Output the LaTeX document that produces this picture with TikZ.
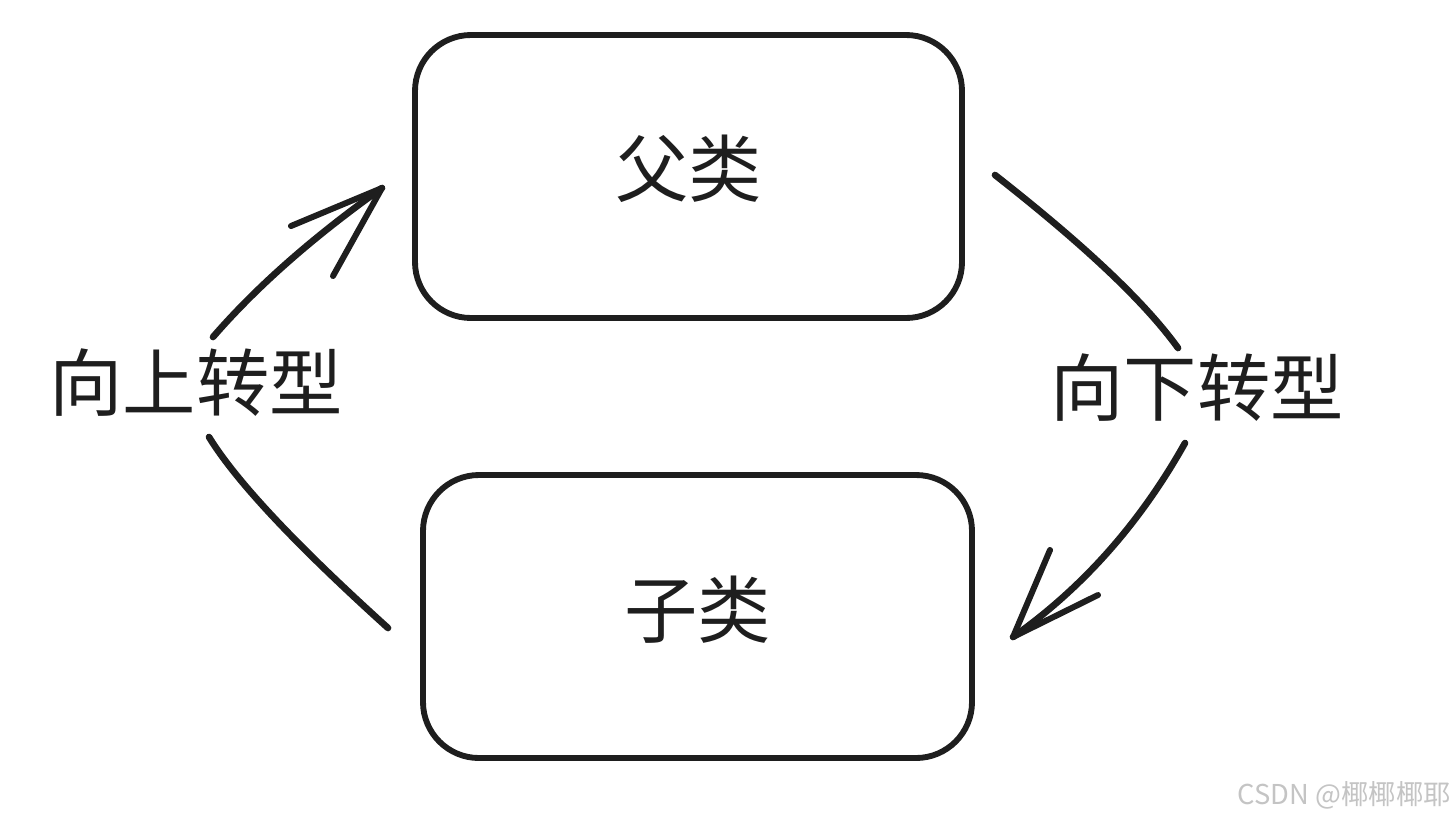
\documentclass[tikz,border=0pt]{standalone}
\usepackage{fontspec}
\newfontfamily\cjk{Noto Sans CJK SC}
\definecolor{ink}{HTML}{1E1E1E}
\definecolor{wm}{HTML}{C4C4C4}
\tikzset{
  box/.style={draw=ink, line width=4.4pt, rounded corners=42pt, inner sep=0pt},
  sketch/.style={draw=ink, line width=5pt, line cap=round},
  barb/.style={draw=ink, line width=4.5pt, line cap=round, line join=round},
  lbl/.style={inner sep=0pt, font=\cjk\fontsize{55}{60}\selectfont, text=ink},
  watermark/.style={inner sep=0pt, font=\cjk\fontsize{20.5}{22}\selectfont, text=wm}
}
\begin{document}
\begin{tikzpicture}[x=0.75pt,y=-0.75pt]
\fill[white] (0,0) rectangle (1455,819);
\useasboundingbox (0,0) rectangle (1455,819);

% boxes
\node[box, minimum width=410.25pt, minimum height=212.25pt] (parent) at (688.5,176.5) {};
\node[box, minimum width=411.75pt, minimum height=212.25pt] (child) at (697.5,616.5) {};
\node[lbl] (parentText) at ([yshift=5.5pt]parent.center) {父类};
\node[lbl] (childText) at ([yshift=5.5pt]child.center) {子类};

% labels
\node[lbl] (up) at (196,383) {向上转型};
\node[lbl] (down) at (1197,388) {向下转型};

% left connector (child -> parent)
\coordinate (l0) at (388,628);
\coordinate (l1) at (209,437);
\coordinate (l2) at (213,337);
\coordinate (ltip) at (382,188);
\coordinate (lb1) at (291,226);
\coordinate (lb2) at (333,276);
\draw[sketch] (l0) .. controls (295,544) and (236,481) .. (l1);
\draw[sketch] (l2) .. controls (259,284) and (316,235) .. (ltip);
\draw[barb] (lb1) -- (ltip) -- (lb2);

% right connector (parent -> child)
\coordinate (r0) at (995,175);
\coordinate (r1) at (1178,348);
\coordinate (r2) at (1185,443);
\coordinate (rtip) at (1013,637);
\coordinate (rb1) at (1050,550);
\coordinate (rb2) at (1098,595);
\draw[sketch] (r0) .. controls (1083,244) and (1144,301) .. (r1);
\draw[sketch] (r2) .. controls (1139,525) and (1081,589) .. (rtip);
\draw[barb] (rb1) -- (rtip) -- (rb2);

% watermark
\node[watermark, anchor=east] (wmk) at (1451,795) {CSDN @椰椰椰耶};
\end{tikzpicture}
\end{document}
